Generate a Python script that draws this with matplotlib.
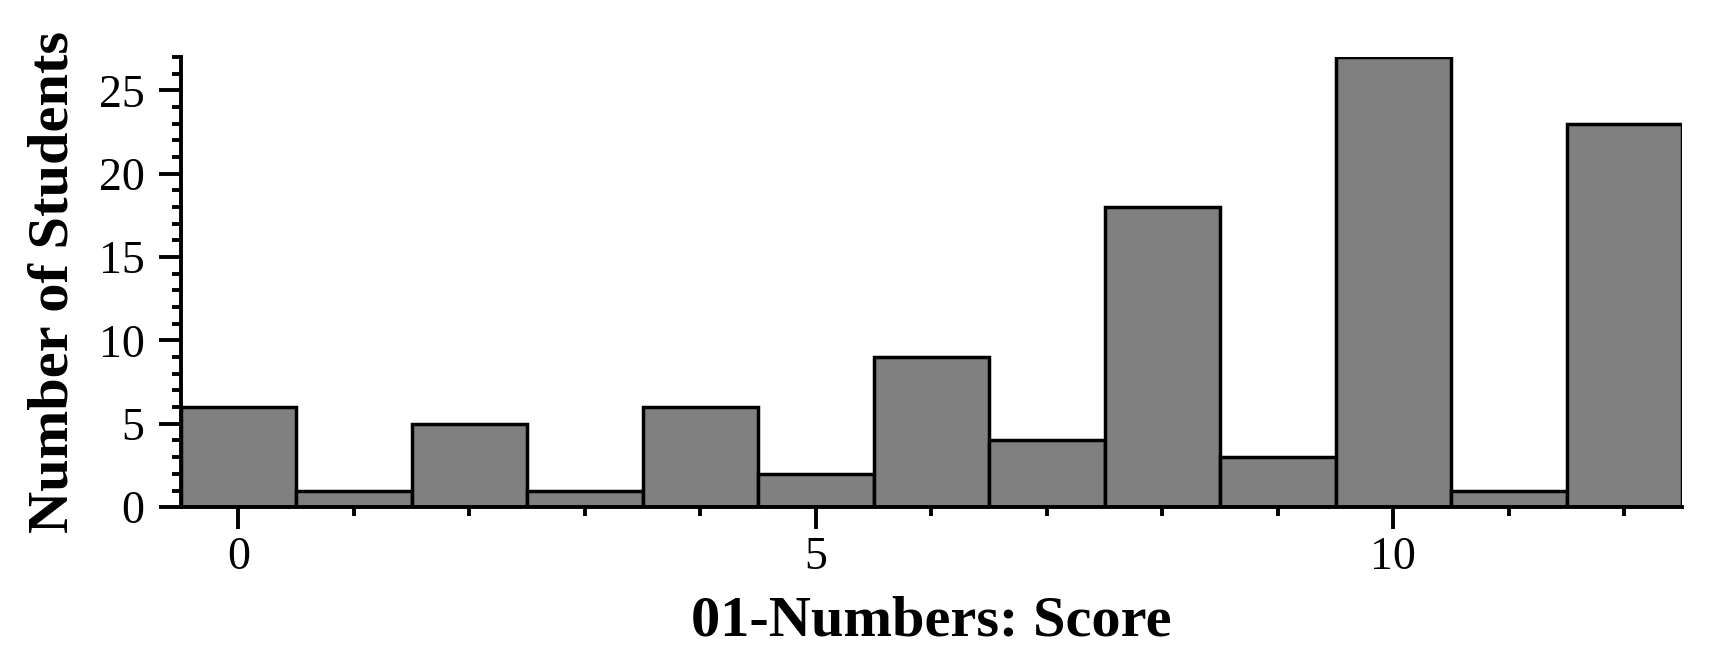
import matplotlib
matplotlib.use("Agg")
import matplotlib.pyplot as plt
from matplotlib.ticker import MultipleLocator

scores = list(range(13))
counts = [6, 1, 5, 1, 6, 2, 9, 4, 18, 3, 27, 1, 23]
xlabel = "01-Numbers: Score"
ylabel = "Number of Students"

plt.rcParams['font.family'] = ['Liberation Serif', 'DejaVu Serif']

fig = plt.figure(figsize=(17.2, 6.7), dpi=100)
ax = fig.add_axes([0.105, 0.243, 0.873, 0.672])

ax.bar(scores, counts, width=1.0, color='#808080', edgecolor='black', linewidth=2.5)

ax.set_xlim(-0.5, 12.5)
ax.set_ylim(0, 27)
ax.spines['top'].set_visible(False)
ax.spines['right'].set_visible(False)
for s in ('left', 'bottom'):
    ax.spines[s].set_linewidth(2.8)

ax.xaxis.set_major_locator(MultipleLocator(5))
ax.xaxis.set_minor_locator(MultipleLocator(1))
ax.yaxis.set_major_locator(MultipleLocator(5))
ax.yaxis.set_minor_locator(MultipleLocator(1))
ax.tick_params(which='major', direction='out', length=16, width=2.8, labelsize=33)
ax.tick_params(which='minor', direction='out', length=6.5, width=2.8)
ax.tick_params(axis='x', which='major', pad=5)
ax.tick_params(axis='y', which='major', pad=10)

ax.set_xlabel(xlabel, fontsize=42, fontweight='bold', labelpad=12)
ax.set_ylabel(ylabel, fontsize=42, fontweight='bold', labelpad=14)

fig.savefig("out.png", dpi=100, facecolor='white')
